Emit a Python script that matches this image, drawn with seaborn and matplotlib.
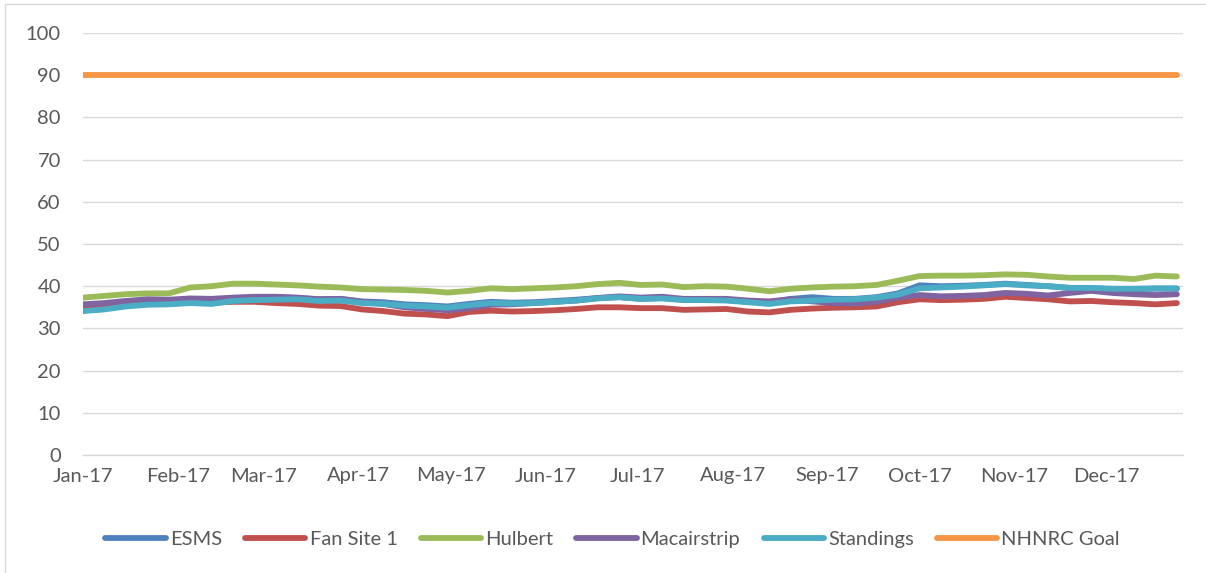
#!/usr/bin/env python3
"""Weekly site scores vs NHNRC goal, 2017."""
import numpy as np, pandas as pd
import matplotlib
matplotlib.use('Agg')
import matplotlib.pyplot as plt
import matplotlib.dates as mdates
from matplotlib.patches import Rectangle
import seaborn as sns

WEEKS = pd.date_range('2017-01-01', periods=52, freq='7D')

ESMS = [34.6, 35.0, 35.6, 36.0, 36.0, 36.4, 36.3, 37.0, 37.2, 37.4,
        37.2, 36.9, 37.0, 36.4, 36.2, 35.7, 35.5, 35.2, 35.8, 36.3,
        36.1, 36.2, 36.5, 36.8, 37.2, 37.4, 37.0, 37.2, 36.8, 36.8,
        36.7, 36.3, 36.2, 37.0, 37.4, 37.0, 37.0, 37.4, 38.3, 40.2,
        40.0, 40.1, 40.3, 40.6, 40.3, 40.0, 39.6, 39.5, 39.3, 39.3,
        39.4, 39.4]
FAN_SITE_1 = [34.9, 35.3, 35.8, 36.2, 36.0, 36.3, 36.1, 36.3, 36.3, 36.0,
              35.8, 35.4, 35.3, 34.5, 34.1, 33.5, 33.3, 32.9, 33.9, 34.2,
              34.0, 34.1, 34.3, 34.6, 35.0, 35.0, 34.8, 34.8, 34.4, 34.5,
              34.6, 34.0, 33.8, 34.4, 34.7, 34.9, 35.0, 35.2, 36.2, 36.9,
              36.7, 36.8, 37.0, 37.5, 37.2, 36.9, 36.4, 36.5, 36.2, 36.0,
              35.7, 36.0]
HULBERT = [37.3, 37.7, 38.1, 38.3, 38.3, 39.7, 40.0, 40.6, 40.6, 40.4,
           40.2, 39.9, 39.7, 39.3, 39.2, 39.1, 38.9, 38.5, 38.9, 39.5,
           39.3, 39.5, 39.7, 40.0, 40.5, 40.8, 40.3, 40.4, 39.8, 40.0,
           39.9, 39.4, 38.8, 39.4, 39.7, 39.9, 40.0, 40.3, 41.3, 42.4,
           42.5, 42.5, 42.6, 42.8, 42.7, 42.3, 42.0, 42.0, 42.0, 41.7,
           42.5, 42.3]
MACAIRSTRIP = [35.7, 36.0, 36.5, 36.9, 36.8, 37.1, 37.0, 37.3, 37.5, 37.5,
               37.3, 36.9, 37.0, 36.3, 35.8, 35.0, 34.6, 34.3, 34.8, 35.6,
               35.7, 36.0, 36.3, 36.6, 37.2, 37.6, 37.3, 37.5, 37.0, 37.0,
               37.0, 36.6, 36.4, 36.9, 36.4, 36.0, 35.9, 36.3, 37.3, 37.9,
               37.6, 37.7, 37.9, 38.4, 38.2, 37.8, 38.4, 38.9, 38.4, 38.1,
               37.9, 38.1]
STANDINGS = [34.1, 34.5, 35.2, 35.6, 35.7, 36.0, 35.8, 36.5, 36.7, 36.8,
             36.9, 36.5, 36.6, 36.0, 35.8, 35.4, 35.2, 34.9, 35.5, 36.0,
             35.9, 36.0, 36.3, 36.6, 37.1, 37.4, 37.0, 37.1, 36.7, 36.7,
             36.6, 36.2, 35.8, 36.4, 36.6, 36.8, 36.9, 37.3, 38.0, 39.5,
             39.7, 39.9, 40.2, 40.5, 40.2, 40.0, 39.6, 39.6, 39.4, 39.4,
             39.5, 39.5]
GOAL = [90] * len(WEEKS)

SERIES = ['ESMS', 'Fan Site 1', 'Hulbert', 'Macairstrip', 'Standings', 'NHNRC Goal']
COLORS = ['#4F81BD', '#C0504D', '#9BBB59', '#8064A2', '#4BACC6', '#F79646']

sns.set_style('white')
plt.rcParams.update({
    'font.family': ['Lato', 'DejaVu Sans'], 'font.size': 14.5,
    'text.color': '#595959', 'xtick.color': '#595959', 'ytick.color': '#595959',
})

df = pd.DataFrame({'date': WEEKS, 'ESMS': ESMS, 'Fan Site 1': FAN_SITE_1,
                   'Hulbert': HULBERT, 'Macairstrip': MACAIRSTRIP,
                   'Standings': STANDINGS, 'NHNRC Goal': GOAL})
long = df.melt(id_vars='date', var_name='site', value_name='score')

fig = plt.figure(figsize=(12.06, 5.73), dpi=100)
ax = fig.add_axes([83/1206, 118/573, 1100/1206, 422/573])

LW = 4.2
sns.lineplot(data=long, x='date', y='score', hue='site', hue_order=SERIES,
             palette=COLORS, linewidth=LW, ax=ax, legend=False)
for ln in ax.get_lines():
    ln.set_solid_capstyle('round')
    ln.set_solid_joinstyle('round')

ax.set_ylim(0, 100)
ax.set_yticks(np.arange(0, 101, 10))
ax.set_xlim(pd.Timestamp('2017-01-01'), pd.Timestamp('2017-12-26'))
ax.xaxis.set_major_locator(mdates.MonthLocator())
ax.xaxis.set_major_formatter(mdates.DateFormatter('%b-%y'))
ax.set_xlabel('')
ax.set_ylabel('')
ax.grid(axis='y', color='#D9D9D9', linewidth=1)
ax.set_axisbelow(True)
for s in ['top', 'right', 'left']:
    ax.spines[s].set_visible(False)
ax.spines['bottom'].set_color('#D9D9D9')
ax.spines['bottom'].set_linewidth(1)
ax.tick_params(axis='y', length=0, pad=16, labelsize=14.5)
ax.tick_params(axis='x', length=5, color='#D9D9D9', direction='out', pad=4, labelsize=14.5)

handles = [plt.Line2D([], [], color=c, linewidth=LW, solid_capstyle='round') for c in COLORS]
fig.legend(handles, SERIES, loc='center', bbox_to_anchor=(0.508, 0.058), ncol=6,
           frameon=False, handlelength=3.0, handletextpad=0.2, columnspacing=1.15,
           fontsize=14.5)

# chart area border
fig.patches.append(Rectangle((5/1206, -0.1), 1.2, (569/573) + 0.1,
                             transform=fig.transFigure, fill=False,
                             edgecolor='#D9D9D9', linewidth=1))

fig.savefig('out.png', dpi=100)
plt.close(fig)
